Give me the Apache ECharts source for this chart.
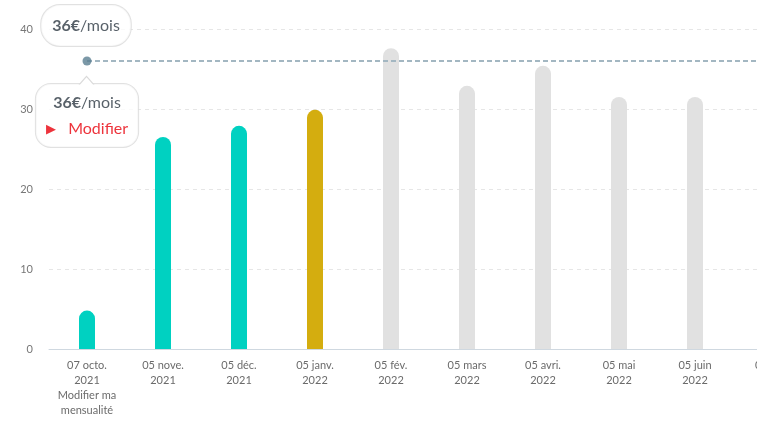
<!DOCTYPE html>
<html>
<head>
<meta charset="utf-8">
<script src="https://cdn.jsdelivr.net/npm/echarts@6/dist/echarts.min.js"></script>
<style>
html,body{margin:0;padding:0;overflow:hidden;background:#fff;}
#c{width:830px;height:426px;}
</style>
</head>
<body>
<div id="c"></div>
<script>
// ---- data ----
const categories = [
  '07 octo.\n2021\nModifier ma\nmensualité',
  '05 nove.\n2021', '05 déc.\n2021', '05 janv.\n2022', '05 fév.\n2022',
  '05 mars\n2022', '05 avri.\n2022', '05 mai\n2022', '05 juin\n2022', '05 juil.\n2022'
];
const payments = [4.8, 26.5, 27.9, 29.9, 37.6, 32.9, 35.4, 31.5, 31.5, 31.5];
const monthlyAmount = 36;
const yTicks = { min: 0, max: 40, interval: 10 };
const labelAmount = '36€';
const labelUnit = '/mois';
const labelAction = 'Modifier';

// ---- style ----
const FONT = 'Lato, "Noto Sans", sans-serif';
const TEAL = '#00d1c1', GOLD = '#d4ad0f', GREY = '#e1e1e1';
function barColor(i){ return i < 3 ? TEAL : (i === 3 ? GOLD : GREY); }

const chart = echarts.init(document.getElementById('c'));
const refLine = categories.map(() => monthlyAmount);

chart.setOption({
  animation: false,
  textStyle: { fontFamily: FONT },
  grid: { left: 49, right: 21, top: 29, bottom: 77, containLabel: false },
  xAxis: {
    type: 'category',
    data: categories,
    boundaryGap: true,
    axisLine: { lineStyle: { color: '#cfd8e0', width: 1 } },
    axisTick: { show: false },
    axisLabel: { color: '#6b6b6b', fontSize: 11, lineHeight: 15, margin: 9, interval: 0, fontFamily: FONT }
  },
  yAxis: {
    type: 'value',
    min: yTicks.min, max: yTicks.max, interval: yTicks.interval,
    axisLine: { show: false },
    axisTick: { show: false },
    axisLabel: { color: '#777', fontSize: 11, margin: 16, fontFamily: FONT },
    splitLine: { lineStyle: { color: '#e6e6e6', type: [4, 4] } }
  },
  series: [
    {
      type: 'bar',
      data: payments.map((v, i) => ({ value: v, itemStyle: { color: barColor(i) } })),
      barWidth: 16,
      itemStyle: { borderRadius: [8, 8, 0, 0] },
      silent: true, z: 2
    },
    {
      type: 'line',
      data: refLine,
      showSymbol: false,
      lineStyle: { color: '#a3b7c2', width: 2, type: [5, 3] },
      silent: true, z: 3
    },
    {
      // the dot and the lower box
      type: 'scatter',
      data: [[0, monthlyAmount]],
      symbolSize: 9,
      itemStyle: { color: '#5a7e91' },
      z: 4,
      label: {
        show: true, position: 'bottom', distance: 18.5, offset: [0, 0],
        formatter: '{b|' + labelAmount + '}{n|' + labelUnit + '}\n{r|▶}{s|   }{m|' + labelAction + '}',
        backgroundColor: '#fff', borderColor: '#dadada', borderWidth: 1, borderRadius: 15,
        padding: [6, 10, 5, 10], align: 'center',
        rich: {
          b: { fontFamily: FONT, fontSize: 16, fontWeight: 'bold', color: '#2e3a44', lineHeight: 26 },
          n: { fontFamily: FONT, fontSize: 16, color: '#2e3a44', lineHeight: 26 },
          r: { fontFamily: FONT, fontSize: 13, color: '#e8000b', lineHeight: 26 },
          s: { fontFamily: FONT, fontSize: 16, lineHeight: 26 },
          m: { fontFamily: FONT, fontSize: 16, color: '#e8000b', lineHeight: 26 }
        }
      }
    },
    {
      // the upper box
      type: 'scatter',
      data: [[0, monthlyAmount]],
      symbolSize: 9,
      itemStyle: { color: 'rgba(0,0,0,0)' },
      z: 4,
      label: {
        show: true, position: 'top', distance: 10.5, offset: [-1, 0],
        formatter: '{b|' + labelAmount + '}{n|' + labelUnit + '}',
        backgroundColor: '#fff', borderColor: '#dadada', borderWidth: 1, borderRadius: 19,
        padding: [11, 11, 11, 11],
        rich: {
          b: { fontFamily: FONT, fontSize: 16, fontWeight: 'bold', color: '#2e3a44', lineHeight: 19 },
          n: { fontFamily: FONT, fontSize: 16, color: '#2e3a44', lineHeight: 19 }
        }
      }
    },
    {
      // arrow outline
      type: 'scatter',
      data: [[0, monthlyAmount]],
      symbol: 'triangle', symbolSize: [16, 9], symbolOffset: [-0.5, 19],
      itemStyle: { color: '#dadada', opacity: 1 },
      silent: true, z: 6
    },
    {
      // arrow fill
      type: 'scatter',
      data: [[0, monthlyAmount]],
      symbol: 'triangle', symbolSize: [14, 8], symbolOffset: [-0.5, 20.2],
      itemStyle: { color: '#ffffff', opacity: 1 },
      silent: true, z: 7
    }
  ]
});
</script>
</body>
</html>
